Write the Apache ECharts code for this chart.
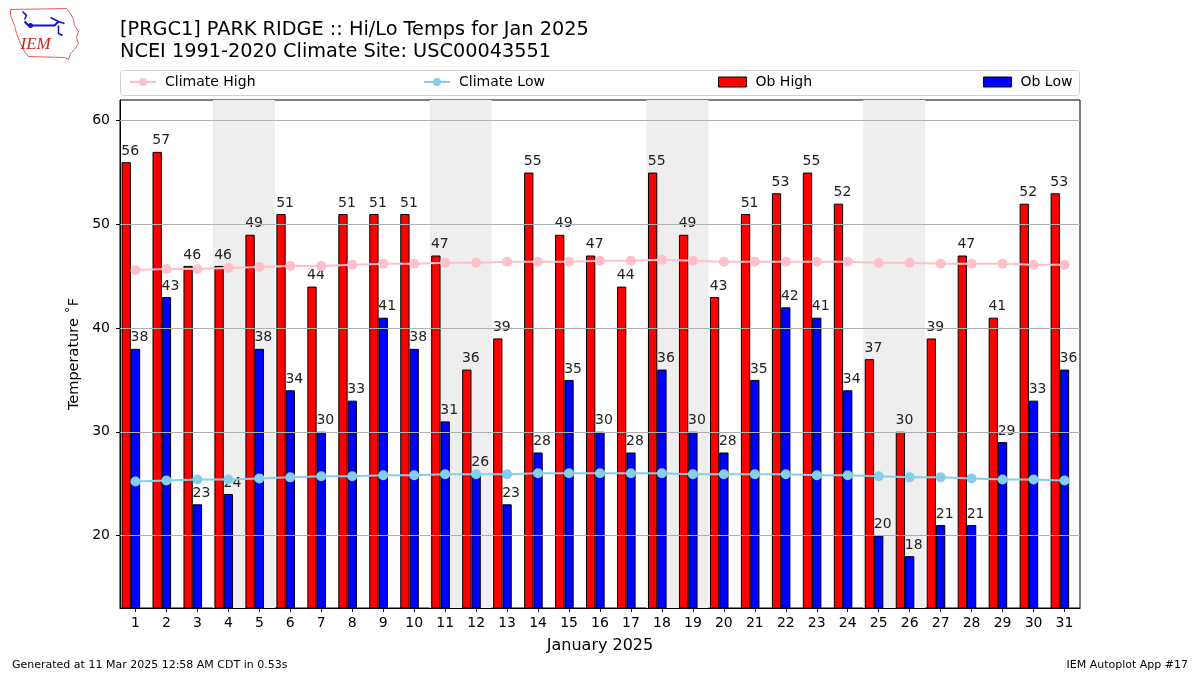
<!DOCTYPE html>
<html>
<head>
<meta charset="utf-8">
<script src="https://cdn.jsdelivr.net/npm/echarts@6/dist/echarts.min.js"></script>
<style>html,body{margin:0;padding:0;background:#fff}#c{width:1200px;height:675px}</style>
</head>
<body>
<div id="c"></div>
<script>
const days = ['1','2','3','4','5','6','7','8','9','10','11','12','13','14','15','16','17','18','19','20','21','22','23','24','25','26','27','28','29','30','31'];
const obHigh = [56,57,46,46,49,51,44,51,51,51,47,36,39,55,49,47,44,55,49,43,51,53,55,52,37,30,39,47,41,52,53];
const obLow = [38,43,23,24,38,34,30,33,41,38,31,26,23,28,35,30,28,36,30,28,35,42,41,34,20,18,21,21,29,33,36];
const climHigh = [45.6,45.7,45.7,45.8,45.9,46.0,46.0,46.1,46.2,46.2,46.3,46.3,46.4,46.4,46.4,46.5,46.5,46.6,46.5,46.4,46.4,46.4,46.4,46.4,46.3,46.3,46.2,46.2,46.2,46.1,46.1];
const climLow = [25.2,25.3,25.4,25.4,25.5,25.6,25.7,25.7,25.8,25.8,25.9,25.9,25.9,26.0,26.0,26.0,26.0,26.0,25.9,25.9,25.9,25.9,25.8,25.8,25.7,25.6,25.6,25.5,25.4,25.4,25.3];
const weekends = [[3.5,5.5],[10.5,12.5],[17.5,19.5],[24.5,26.5]];
const yTicks = [20,30,40,50,60];

const FONT = 'DejaVu Sans';
const chart = echarts.init(document.getElementById('c'), null, {renderer:'canvas'});

const labelCfg = {show:true, position:'top', distance:4, offset:[4,0], color:'#222', fontSize:14, fontFamily:FONT};
const legText = {fontSize:14, color:'#000', padding:[0,0,0,4], fontFamily:FONT};

const option = {
  animation:false,
  backgroundColor:'#fff',
  textStyle:{fontFamily:FONT},
  title:{
    text:'[PRGC1] PARK RIDGE :: Hi/Lo Temps for Jan 2025\nNCEI 1991-2020 Climate Site: USC00043551',
    left:115, top:14,
    textStyle:{fontSize:19.3, fontWeight:'normal', color:'#000', lineHeight:22, fontFamily:FONT}
  },
  legend:[
    {data:['Climate High'], left:124, top:70, itemWidth:26, itemHeight:10, selectedMode:false, textStyle:legText},
    {data:['Climate Low'], left:418, top:70, itemWidth:26, itemHeight:10, selectedMode:false, textStyle:legText},
    {data:['Ob High'], left:713, top:70, itemWidth:28, itemHeight:10, icon:'rect', selectedMode:false, itemStyle:{borderColor:'#000',borderWidth:1}, textStyle:legText},
    {data:['Ob Low'], left:978, top:70, itemWidth:28, itemHeight:10, icon:'rect', selectedMode:false, itemStyle:{borderColor:'#000',borderWidth:1}, textStyle:legText}
  ],
  grid:{left:120, right:120, top:100, bottom:67, show:true, borderColor:'#000', borderWidth:1, backgroundColor:'transparent'},
  xAxis:[
    {type:'category', data:days, boundaryGap:true,
     name:'January 2025', nameLocation:'middle', nameGap:30, nameTextStyle:{fontSize:16,color:'#000'},
     axisLine:{show:true, lineStyle:{color:'#000'}},
     axisTick:{show:true, alignWithLabel:true, length:4, lineStyle:{color:'#000'}},
     axisLabel:{color:'#000', fontSize:14, margin:8},
     splitLine:{show:false}},
    {type:'value', min:0.5, max:31.5, show:false}
  ],
  yAxis:{
    type:'value', min:13, max:62,
    name:'Temperature ˚F', nameLocation:'middle', nameGap:37, nameTextStyle:{fontSize:14.5,color:'#000'},
    axisLine:{show:true, lineStyle:{color:'#000'}},
    axisTick:{show:true, length:4, customValues:yTicks, lineStyle:{color:'#000'}},
    axisLabel:{color:'#000', fontSize:14, margin:10, customValues:yTicks},
    splitLine:{show:false}
  },
  series:[
    {name:'shade', type:'line', xAxisIndex:1, data:[], z:1, silent:true,
     markArea:{silent:true, itemStyle:{color:'#eeeeee'}, data:weekends.map(w=>[{xAxis:w[0]},{xAxis:w[1]}])},
     markLine:{silent:true, symbol:'none', label:{show:false}, lineStyle:{color:'#b0b0b0', width:1, type:'solid'}, data:yTicks.map(v=>({yAxis:v}))}
    },
    {name:'Ob High', type:'bar', data:obHigh, barWidth:'30%', barGap:'0%', z:3,
     itemStyle:{color:'#ff0000', borderColor:'#000', borderWidth:1}, label:labelCfg},
    {name:'Ob Low', type:'bar', data:obLow, barWidth:'30%', barGap:'0%', z:3,
     itemStyle:{color:'#0000ff', borderColor:'#000', borderWidth:1}, label:labelCfg},
    {name:'spacer', type:'bar', data:days.map(()=>null), barWidth:'30%', barGap:'0%', silent:true},
    {name:'Climate High', type:'line', data:climHigh, z:4, symbol:'circle', symbolSize:10,
     lineStyle:{color:'#ffc0cb', width:2}, itemStyle:{color:'#ffc0cb'}},
    {name:'Climate Low', type:'line', data:climLow, z:4, symbol:'circle', symbolSize:10,
     lineStyle:{color:'#87ceeb', width:2}, itemStyle:{color:'#87ceeb'}}
  ],
  graphic:[
    {type:'rect', shape:{x:120.5, y:70.5, width:959, height:25, r:3}, style:{fill:'none', stroke:'#d0d0d0', lineWidth:1}, z:-1},
    {type:'text', left:12, top:660, style:{text:'Generated at 11 Mar 2025 12:58 AM CDT in 0.53s', fontSize:11, fill:'#000', fontFamily:FONT}},
    {type:'text', right:12, top:660, style:{text:'IEM Autoplot App #17', fontSize:11, fill:'#000', fontFamily:FONT}},
    {type:'group', left:8, top:6, children:[
      {type:'polyline', shape:{points:[[2,2],[58,1],[62,6],[65,12],[66,18],[70,24],[68,30],[70,36],[66,42],[62,46],[60,52],[56,50],[20,49],[16,44],[12,36],[8,26],[6,18],[2,8],[2,2]]}, style:{stroke:'#e06060', lineWidth:1, fill:'none'}},
      {type:'polyline', shape:{points:[[16,14],[20,18],[46,18],[50,14]]}, style:{stroke:'#1010d0', lineWidth:2, fill:'none'}},
      {type:'polyline', shape:{points:[[14,4],[18,8],[16,12]]}, style:{stroke:'#1010d0', lineWidth:1.5, fill:'none'}},
      {type:'polyline', shape:{points:[[42,10],[50,14],[56,16]]}, style:{stroke:'#1010d0', lineWidth:1.5, fill:'none'}},
      {type:'polyline', shape:{points:[[50,18],[50,26],[54,28]]}, style:{stroke:'#1010d0', lineWidth:1.5, fill:'none'}},
      {type:'circle', shape:{cx:22, cy:18, r:2.5}, style:{fill:'#1010d0'}},
      {type:'text', left:12, top:29, style:{text:'IEM', fontSize:17, fontStyle:'italic', fontFamily:'Liberation Serif', fill:'#d02020'}}
    ]}
  ]
};
chart.setOption(option);
</script>
</body>
</html>
